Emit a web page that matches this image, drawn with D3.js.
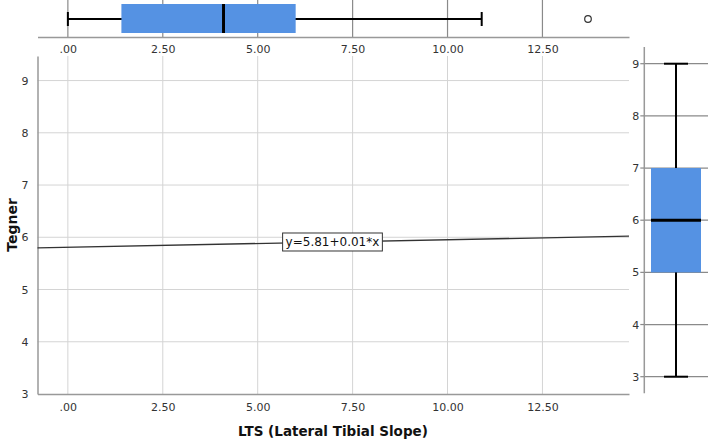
<!DOCTYPE html>
<html><head><meta charset="utf-8">
<script src="https://cdn.jsdelivr.net/npm/d3@7"></script>
<style>body{margin:0;background:#fff}svg{display:block}</style>
</head><body>
<script>
// ---- data ----
const xTicks = [0, 2.5, 5, 7.5, 10, 12.5];
const xTickLabels = [".00", "2.50", "5.00", "7.50", "10.00", "12.50"];
const yTicks = [3, 4, 5, 6, 7, 8, 9];
const ltsStats = [0, 1.41, 4.1, 6.0, 10.9];      // min, q1, median, q3, max
const ltsOutliers = [13.7];
const tegnerStats = [3, 5, 6, 7, 9];              // min, q1, median, q3, max
const fitIntercept = 5.81;
const fitSlope = 0.0143;
const fitLabel = "y=5.81+0.01*x";
const fitLabelX = 6.97;
const xTitle = "LTS (Lateral Tibial Slope)";
const yTitle = "Tegner";

const W = 708, H = 440;
const svg = d3.select("body").append("svg").attr("width", W).attr("height", H);
const font = "DejaVu Sans, Verdana, sans-serif";

// main scales
const x = d3.scaleLinear().domain([-0.8, 14.78]).range([37.5, 629]);
const y = d3.scaleLinear().domain([3, 9.47]).range([394, 56]);
// right boxplot scale
const yR = d3.scaleLinear().domain([3, 9]).range([376.7, 63.7]);

const gridLight = "#d4d4d4", axisCol = "#999", gridDark = "#8a8a8a", txt = "#333";
const boxFill = "#5592e3";

// ---- main plot grid ----
const g = svg.append("g");
g.selectAll(".vg").data(xTicks).join("line")
  .attr("x1", d => x(d)).attr("x2", d => x(d))
  .attr("y1", y.range()[1]).attr("y2", y.range()[0])
  .attr("stroke", gridLight).attr("stroke-width", 1);
g.selectAll(".hg").data(yTicks.filter(d => d > 3)).join("line")
  .attr("x1", x.range()[0]).attr("x2", x.range()[1])
  .attr("y1", d => y(d)).attr("y2", d => y(d))
  .attr("stroke", gridLight).attr("stroke-width", 1);

// axes
const xAxis = d3.axisBottom(x).tickValues(xTicks).tickFormat((d, i) => xTickLabels[i]).tickSize(0).tickPadding(9);
const gx = svg.append("g").attr("transform", `translate(0,${y(3)})`).call(xAxis);
gx.select(".domain").attr("stroke", axisCol).attr("stroke-width", 1.5);
gx.selectAll("text").attr("fill", txt).style("font-family", font).style("font-size", "11px");

const yAxis = d3.axisLeft(y).tickValues(yTicks).tickFormat(d3.format("d")).tickSize(0).tickPadding(9);
const gy = svg.append("g").attr("transform", `translate(${x.range()[0]},0)`).call(yAxis);
gy.select(".domain").attr("stroke", axisCol).attr("stroke-width", 1.5);
gy.selectAll("text").attr("fill", txt).style("font-family", font).style("font-size", "11px");

// fit line
const fx = x.domain();
svg.append("line")
  .attr("x1", x(fx[0])).attr("y1", y(fitIntercept + fitSlope * fx[0]))
  .attr("x2", x(fx[1])).attr("y2", y(fitIntercept + fitSlope * fx[1]))
  .attr("stroke", "#333").attr("stroke-width", 1.3);
const ly = y(fitIntercept + fitSlope * fitLabelX);
const labelRect = svg.append("rect");
const lt = svg.append("text").attr("x", x(fitLabelX)).attr("y", ly + 4.5)
  .attr("text-anchor", "middle").attr("fill", "#111")
  .style("font-family", font).style("font-size", "12px").text(fitLabel);
const bb = lt.node().getBBox();
labelRect
  .attr("x", bb.x - 3).attr("y", ly - 9).attr("width", bb.width + 6).attr("height", 18)
  .attr("fill", "#fff").attr("stroke", "#333").attr("stroke-width", 1);

// titles
svg.append("text").attr("x", 333).attr("y", 436).attr("text-anchor", "middle")
  .attr("fill", "#111").style("font-family", font).style("font-weight", "bold").style("font-size", "13.5px").text(xTitle);
svg.append("text").attr("transform", `translate(17,225) rotate(-90)`).attr("text-anchor", "middle")
  .attr("fill", "#111").style("font-family", font).style("font-weight", "bold").style("font-size", "14px").text(yTitle);

// ---- top boxplot ----
const topAxisY = 37, topMid = 19;
svg.selectAll(".tvg").data(xTicks).join("line")
  .attr("x1", d => x(d)).attr("x2", d => x(d)).attr("y1", 0).attr("y2", topAxisY)
  .attr("stroke", gridDark).attr("stroke-width", 1.2);
const tax = d3.axisBottom(x).tickValues(xTicks).tickFormat((d, i) => xTickLabels[i]).tickSize(0).tickPadding(8);
const gtx = svg.append("g").attr("transform", `translate(0,${topAxisY})`).call(tax);
gtx.select(".domain").attr("stroke", axisCol).attr("stroke-width", 1.5);
gtx.selectAll("text").attr("fill", txt).style("font-family", font).style("font-size", "11px");

svg.append("line").attr("x1", x(ltsStats[0])).attr("x2", x(ltsStats[4]))
  .attr("y1", topMid).attr("y2", topMid).attr("stroke", "#000").attr("stroke-width", 2);
svg.append("rect").attr("x", x(ltsStats[1])).attr("width", x(ltsStats[3]) - x(ltsStats[1]))
  .attr("y", 4).attr("height", 29).attr("fill", boxFill);
svg.append("line").attr("x1", x(ltsStats[2])).attr("x2", x(ltsStats[2]))
  .attr("y1", 4).attr("y2", 33).attr("stroke", "#000").attr("stroke-width", 3);
[ltsStats[0], ltsStats[4]].forEach(v => {
  svg.append("line").attr("x1", x(v)).attr("x2", x(v)).attr("y1", topMid - 7).attr("y2", topMid + 7)
    .attr("stroke", "#000").attr("stroke-width", 2);
});
svg.selectAll(".out").data(ltsOutliers).join("circle")
  .attr("cx", d => x(d)).attr("cy", topMid).attr("r", 3.3)
  .attr("fill", "#fff").attr("stroke", "#333").attr("stroke-width", 1.2);

// ---- right boxplot ----
const rAxisX = 644.3, rMid = 676;
svg.selectAll(".rhg").data(yTicks).join("line")
  .attr("x1", rAxisX).attr("x2", W).attr("y1", d => yR(d)).attr("y2", d => yR(d))
  .attr("stroke", gridDark).attr("stroke-width", 1.2);
svg.append("line").attr("x1", rAxisX).attr("x2", rAxisX).attr("y1", 47).attr("y2", 393.3)
  .attr("stroke", axisCol).attr("stroke-width", 1.5);
svg.selectAll(".rtk").data(yTicks).join("line")
  .attr("x1", rAxisX - 4).attr("x2", rAxisX).attr("y1", d => yR(d)).attr("y2", d => yR(d))
  .attr("stroke", gridDark).attr("stroke-width", 1.2);
svg.selectAll(".rtl").data(yTicks).join("text")
  .attr("x", rAxisX - 5).attr("y", d => yR(d) + 4).attr("text-anchor", "end")
  .attr("fill", txt).style("font-family", font).style("font-size", "11px").text(d => d);

svg.append("line").attr("x1", rMid).attr("x2", rMid)
  .attr("y1", yR(tegnerStats[0])).attr("y2", yR(tegnerStats[4])).attr("stroke", "#000").attr("stroke-width", 2);
svg.append("rect").attr("x", 651).attr("width", 50)
  .attr("y", yR(tegnerStats[3])).attr("height", yR(tegnerStats[1]) - yR(tegnerStats[3])).attr("fill", boxFill);
svg.append("line").attr("x1", 651).attr("x2", 701)
  .attr("y1", yR(tegnerStats[2])).attr("y2", yR(tegnerStats[2])).attr("stroke", "#000").attr("stroke-width", 3);
[tegnerStats[0], tegnerStats[4]].forEach(v => {
  svg.append("line").attr("x1", rMid - 12).attr("x2", rMid + 12).attr("y1", yR(v)).attr("y2", yR(v))
    .attr("stroke", "#000").attr("stroke-width", 2);
});
</script>
</body></html>
